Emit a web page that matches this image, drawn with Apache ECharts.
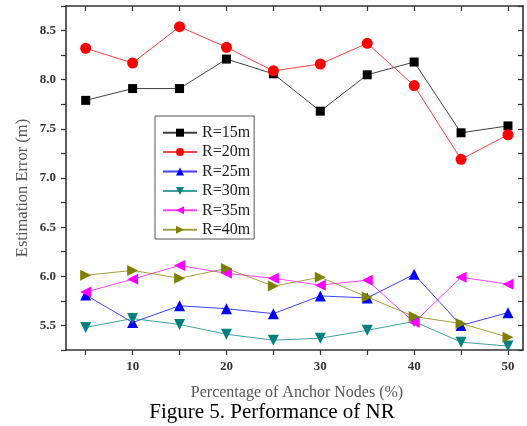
<!DOCTYPE html>
<html>
<head>
<meta charset="utf-8">
<script src="https://cdn.jsdelivr.net/npm/echarts@6/dist/echarts.min.js"></script>
<style>
html,body{margin:0;padding:0;background:#fff;}
#chart{width:527px;height:426px;}
</style>
</head>
<body>
<div id="chart"></div>
<script>
const xValues = [5, 10, 15, 20, 25, 30, 35, 40, 45, 50];
const xTickValues = [5, 10, 15, 20, 25, 30, 35, 40, 45, 50];
const xLabelValues = [10, 20, 30, 40, 50];
const yTickValues = [5.25, 5.5, 5.75, 6.0, 6.25, 6.5, 6.75, 7.0, 7.25, 7.5, 7.75, 8.0, 8.25, 8.5, 8.75];
const yLabelValues = [5.5, 6.0, 6.5, 7.0, 7.5, 8.0, 8.5];
const seriesNames = ['R=15m', 'R=20m', 'R=25m', 'R=30m', 'R=35m', 'R=40m'];
const r15 = [7.79, 7.91, 7.91, 8.21, 8.06, 7.68, 8.05, 8.18, 7.46, 7.53];
const r20 = [8.32, 8.17, 8.54, 8.33, 8.09, 8.16, 8.37, 7.94, 7.19, 7.44];
const r25 = [5.81, 5.53, 5.70, 5.67, 5.62, 5.80, 5.78, 6.02, 5.50, 5.63];
const r30 = [5.48, 5.57, 5.51, 5.41, 5.35, 5.37, 5.45, 5.54, 5.33, 5.29];
const r35 = [5.84, 5.97, 6.11, 6.03, 5.98, 5.91, 5.96, 5.53, 5.99, 5.92];
const r40 = [6.01, 6.06, 5.98, 6.08, 5.90, 5.99, 5.79, 5.59, 5.52, 5.38];
const yTitle = 'Estimation Error (m)';
const xTitle = 'Percentage of Anchor Nodes (%)';
const caption = 'Figure 5. Performance of NR';

const seriesData = [r15, r20, r25, r30, r35, r40];
const colors = ['#000000', '#ff0000', '#0000ff', '#008080', '#ff00ff', '#808000'];
const symbols = ['rect', 'circle', 'triangle', 'triangle', 'triangle', 'triangle'];
const rotates = [0, 0, 0, 180, 90, -90];
const sizes = [9, 11, 11, 11, 11, 11];

const FONT = '"Liberation Serif", "Times New Roman", serif';
const chart = echarts.init(document.getElementById('chart'), null, {renderer: 'canvas'});

const axisLineStyle = {color: '#333', width: 1.6};
const option = {
  animation: false,
  backgroundColor: '#ffffff',
  grid: {left: 66, top: 6, width: 457, height: 344, containLabel: false},
  xAxis: [
    {
      type: 'value', position: 'bottom', min: 2.9, max: 51.6,
      splitLine: {show: false},
      axisLine: {show: true, lineStyle: axisLineStyle},
      axisTick: {show: true, inside: false, length: 5, lineStyle: {color: '#333', width: 1.2}, customValues: xTickValues},
      axisLabel: {show: true, margin: 10, customValues: xLabelValues, fontFamily: FONT, fontWeight: 'bold', fontSize: 13, color: '#333'}
    },
    {
      type: 'value', position: 'top', min: 2.9, max: 51.6,
      splitLine: {show: false},
      axisLine: {show: true, lineStyle: axisLineStyle},
      axisTick: {show: true, inside: true, length: 5, lineStyle: {color: '#333', width: 1.2}, customValues: xTickValues},
      axisLabel: {show: false}
    }
  ],
  yAxis: [
    {
      type: 'value', position: 'left', min: 5.25, max: 8.75,
      splitLine: {show: false},
      axisLine: {show: true, lineStyle: axisLineStyle},
      axisTick: {show: true, inside: false, length: 5, lineStyle: {color: '#333', width: 1.2}, customValues: yTickValues},
      axisLabel: {show: true, margin: 10, customValues: yLabelValues, formatter: v => v.toFixed(1), fontFamily: FONT, fontWeight: 'bold', fontSize: 13, color: '#333'}
    },
    {
      type: 'value', position: 'right', min: 5.25, max: 8.75,
      splitLine: {show: false},
      axisLine: {show: true, lineStyle: axisLineStyle},
      axisTick: {show: true, inside: true, length: 5, lineStyle: {color: '#333', width: 1.2}, customValues: yTickValues},
      axisLabel: {show: false}
    }
  ],
  legend: {
    orient: 'vertical', left: 155, top: 116,
    data: seriesNames,
    backgroundColor: '#fff',
    borderColor: '#555', borderWidth: 1,
    padding: [8.7, 4, 1.3, 7],
    itemWidth: 34, itemHeight: 10, itemGap: 3.4,
    textStyle: {fontFamily: FONT, fontSize: 16, color: '#222', lineHeight: 16}
  },
  graphic: [
    {type: 'text', x: 23, y: 188, rotation: Math.PI / 2,
     style: {text: yTitle, font: '16.5px ' + FONT, fill: '#555', align: 'center', verticalAlign: 'middle'}},
    {type: 'text', x: 297, y: 393,
     style: {text: xTitle, font: '16px ' + FONT, fill: '#555', align: 'center', verticalAlign: 'middle'}},
    {type: 'text', x: 272, y: 412,
     style: {text: caption, font: '21px ' + FONT, fill: '#000', align: 'center', verticalAlign: 'middle'}}
  ],
  series: seriesNames.map((name, i) => ({
    name: name, type: 'line', xAxisIndex: 0, yAxisIndex: 0,
    data: xValues.map((x, j) => [x, seriesData[i][j]]),
    symbol: symbols[i], symbolSize: sizes[i], symbolRotate: rotates[i],
    showAllSymbol: true,
    itemStyle: {color: colors[i]},
    lineStyle: {color: colors[i], width: 1, opacity: 0.75},
    z: 2
  }))
};
chart.setOption(option);
</script>
</body>
</html>
